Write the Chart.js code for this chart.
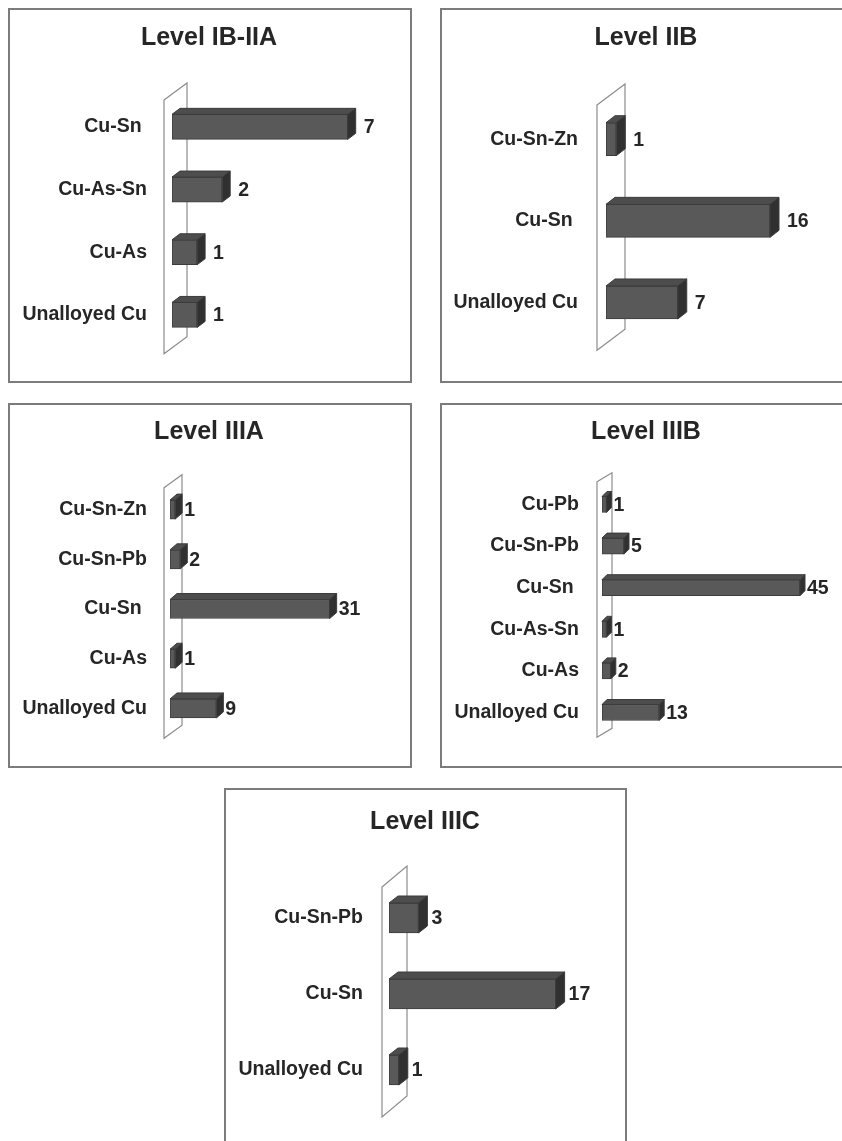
<!DOCTYPE html>
<html>
<head>
<meta charset="utf-8">
<script src="https://cdn.jsdelivr.net/npm/chart.js@4.4.1/dist/chart.umd.min.js"></script>
<style>
  html, body { margin: 0; padding: 0; background: #fff; }
  body { position: relative; width: 842px; height: 1141px; overflow: hidden; }
  .frame { position: absolute; box-sizing: border-box; border: 2px solid #7c7c7c; }
  canvas { position: absolute; }
</style>
</head>
<body>
<div class="frame" id="f1"></div><canvas id="c1"></canvas>
<div class="frame" id="f2"></div><canvas id="c2"></canvas>
<div class="frame" id="f3"></div><canvas id="c3"></canvas>
<div class="frame" id="f4"></div><canvas id="c4"></canvas>
<div class="frame" id="f5"></div><canvas id="c5"></canvas>
<script>
// ---- data: alloy counts per level ----
const levelTitles = ['Level IB-IIA', 'Level IIB', 'Level IIIA', 'Level IIIB', 'Level IIIC'];

const alloysIBIIA = ['Cu-Sn ', 'Cu-As-Sn', 'Cu-As', 'Unalloyed Cu'];
const countsIBIIA = [7, 2, 1, 1];

const alloysIIB = ['Cu-Sn-Zn', 'Cu-Sn ', 'Unalloyed Cu'];
const countsIIB = [1, 16, 7];

const alloysIIIA = ['Cu-Sn-Zn', 'Cu-Sn-Pb', 'Cu-Sn ', 'Cu-As', 'Unalloyed Cu'];
const countsIIIA = [1, 2, 31, 1, 9];

const alloysIIIB = ['Cu-Pb', 'Cu-Sn-Pb', 'Cu-Sn ', 'Cu-As-Sn', 'Cu-As', 'Unalloyed Cu'];
const countsIIIB = [1, 5, 45, 1, 2, 13];

const alloysIIIC = ['Cu-Sn-Pb', 'Cu-Sn', 'Unalloyed Cu'];
const countsIIIC = [3, 17, 1];

// upper end of each hidden value axis
const axisMax = [8, 20, 40, 50, 20];

// ---- styling ----
const FONT = 'Liberation Sans, Arial, Helvetica, sans-serif';
const TEXT = '#262626';
const FRONT = '#595959';
const TOP = '#4d4d4d';
const SIDE = '#303030';
const EDGE = '#3c3c3c';

// panel frames (page px) and plot geometry (canvas px)
const layouts = [
  { box: [8, 8, 404, 375],   axisW: 164, top: 87.5, right: 39.2, bottom: 35.5, tickPad: 25, thick: 25,
    depth: [8, -6], wall: { fx: -8, w: 23, t: 4.5, b: 7.5, dy: -17 }, valGap: 16, titleX: 201, titleY: 37 },
  { box: [440, 8, 410, 375], axisW: 166, top: 90.4, right: 39, bottom: 34.9, tickPad: 28, thick: 33,
    depth: [9, -7], wall: { fx: -9, w: 28, t: 6.5, b: 7, dy: -21 }, valGap: 17, titleX: 206, titleY: 37 },
  { box: [8, 403, 404, 365], axisW: 162, top: 81.75, right: 36, bottom: 30.75, tickPad: 23, thick: 19,
    depth: [7, -6], wall: { fx: -6, w: 18, t: 3, b: 5, dy: -13 }, valGap: 9, titleX: 201, titleY: 36 },
  { box: [440, 403, 410, 365], axisW: 162, top: 80.7, right: 28, bottom: 28.7, tickPad: 23, thick: 16,
    depth: [5, -5], wall: { fx: -5, w: 15, t: -2, b: 4, dy: -9 }, valGap: 7, titleX: 206, titleY: 36 },
  { box: [224, 788, 403, 370], axisW: 165, top: 92, right: 42, bottom: 50, tickPad: 26, thick: 30,
    depth: [9, -7], wall: { fx: -7, w: 25, t: 7, b: 9, dy: -21 }, valGap: 13, titleX: 201, titleY: 41 }
];

// Draws the depth wall behind the bars, the top/side faces of each bar,
// the value labels and the panel heading.
const panel3d = {
  id: 'panel3d',
  beforeDatasetsDraw(chart, args, opts) {
    const { ctx, chartArea } = chart;
    const w = opts.wall;
    const x0 = chartArea.left + w.fx, x1 = x0 + w.w;
    const y0 = chartArea.top + w.t, y1 = chartArea.bottom + w.b;
    ctx.save();
    ctx.beginPath();
    ctx.moveTo(x0, y0);
    ctx.lineTo(x1, y0 + w.dy);
    ctx.lineTo(x1, y1 + w.dy);
    ctx.lineTo(x0, y1);
    ctx.closePath();
    ctx.fillStyle = '#ffffff';
    ctx.fill();
    ctx.strokeStyle = '#8c8c8c';
    ctx.lineWidth = 1.2;
    ctx.stroke();
    ctx.restore();
  },
  afterDatasetsDraw(chart, args, opts) {
    const { ctx } = chart;
    const [dx, dy] = opts.depth;
    const meta = chart.getDatasetMeta(0);
    const values = chart.data.datasets[0].data;
    ctx.save();
    ctx.lineWidth = 1;
    ctx.strokeStyle = EDGE;
    meta.data.forEach((bar, i) => {
      const p = bar.getProps(['x', 'y', 'base', 'height'], true);
      const xs = p.base, xe = p.x;
      const yt = p.y - p.height / 2, yb = p.y + p.height / 2;
      // top face
      ctx.beginPath();
      ctx.moveTo(xs, yt);
      ctx.lineTo(xs + dx, yt + dy);
      ctx.lineTo(xe + dx, yt + dy);
      ctx.lineTo(xe, yt);
      ctx.closePath();
      ctx.fillStyle = TOP;
      ctx.fill();
      ctx.stroke();
      // end face
      ctx.beginPath();
      ctx.moveTo(xe, yt);
      ctx.lineTo(xe + dx, yt + dy);
      ctx.lineTo(xe + dx, yb + dy);
      ctx.lineTo(xe, yb);
      ctx.closePath();
      ctx.fillStyle = SIDE;
      ctx.fill();
      ctx.stroke();
      // value label
      ctx.fillStyle = TEXT;
      ctx.font = 'bold 19.5px ' + FONT;
      ctx.textAlign = 'left';
      ctx.textBaseline = 'middle';
      ctx.fillText(String(values[i]), xe + opts.valGap, p.y + 1);
    });
    ctx.restore();
  },
  afterDraw(chart, args, opts) {
    const { ctx } = chart;
    ctx.save();
    ctx.fillStyle = TEXT;
    ctx.font = 'bold 25px ' + FONT;
    ctx.textAlign = 'center';
    ctx.textBaseline = 'alphabetic';
    ctx.fillText(opts.title, opts.titleX, opts.titleY);
    ctx.restore();
  }
};

function makePanel(idx, labels, values) {
  const g = layouts[idx];
  const [bx, by, bw, bh] = g.box;
  const frame = document.getElementById('f' + (idx + 1));
  Object.assign(frame.style, { left: bx + 'px', top: by + 'px', width: bw + 'px', height: bh + 'px' });
  const cv = document.getElementById('c' + (idx + 1));
  cv.width = bw; cv.height = bh;
  Object.assign(cv.style, { left: bx + 'px', top: by + 'px', width: bw + 'px', height: bh + 'px' });

  new Chart(cv, {
    type: 'bar',
    data: {
      labels: labels,
      datasets: [{
        data: values,
        backgroundColor: FRONT,
        borderColor: EDGE,
        borderWidth: 1,
        borderSkipped: false,
        barThickness: g.thick
      }]
    },
    options: {
      indexAxis: 'y',
      responsive: false,
      animation: false,
      devicePixelRatio: 1,
      layout: { padding: { left: 0, top: g.top, right: g.right, bottom: g.bottom } },
      plugins: {
        legend: { display: false },
        tooltip: { enabled: false },
        title: { display: false },
        panel3d: {
          title: levelTitles[idx], titleX: g.titleX, titleY: g.titleY,
          depth: g.depth, wall: g.wall, valGap: g.valGap
        }
      },
      scales: {
        x: { display: false, min: 0, max: axisMax[idx] },
        y: {
          grid: { display: false, drawTicks: false },
          border: { display: false },
          ticks: {
            autoSkip: false,
            padding: g.tickPad,
            color: TEXT,
            font: { family: FONT, size: 19.5, weight: 'bold' }
          },
          afterFit: (s) => { s.width = g.axisW; }
        }
      }
    },
    plugins: [panel3d]
  });
}

makePanel(0, alloysIBIIA, countsIBIIA);
makePanel(1, alloysIIB, countsIIB);
makePanel(2, alloysIIIA, countsIIIA);
makePanel(3, alloysIIIB, countsIIIB);
makePanel(4, alloysIIIC, countsIIIC);
</script>
</body>
</html>
